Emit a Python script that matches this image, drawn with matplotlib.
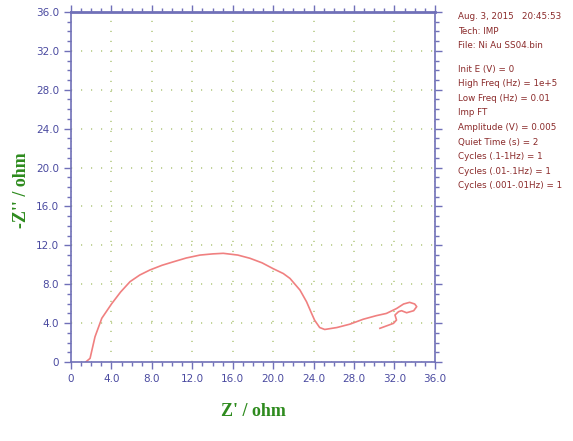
import numpy as np
import matplotlib.pyplot as plt
from matplotlib.ticker import MultipleLocator, FuncFormatter

# impedance data
z_real = [1.48, 1.88, 2.37, 3.04, 4.02, 4.9, 5.84, 6.8, 7.81, 9.0, 10.1, 11.4, 12.76,
          14.0, 15.06, 16.5, 17.7, 18.9, 20.0, 21.0, 21.66, 22.65, 23.3, 23.8, 24.1,
          24.6, 25.1, 26.3, 27.6, 28.9, 30.2, 31.2, 32.2, 32.9, 33.5, 34.0, 34.2,
          33.9, 33.2, 32.7, 32.4, 32.05, 32.2, 31.9, 30.56]
z_imag = [0.03, 0.38, 2.6, 4.5, 6.0, 7.2, 8.27, 8.95, 9.47, 9.95, 10.3, 10.7, 11.0,
          11.12, 11.18, 11.0, 10.67, 10.2, 9.6, 9.1, 8.6, 7.4, 6.2, 5.0, 4.3,
          3.55, 3.35, 3.55, 3.9, 4.4, 4.77, 5.0, 5.5, 5.97, 6.14, 5.97, 5.7,
          5.28, 5.07, 5.28, 5.18, 4.84, 4.32, 3.98, 3.47]

info_lines = ["Aug. 3, 2015   20:45:53", "Tech: IMP", "File: Ni Au SS04.bin", "",
              "Init E (V) = 0", "High Freq (Hz) = 1e+5", "Low Freq (Hz) = 0.01", "Imp FT",
              "Amplitude (V) = 0.005", "Quiet Time (s) = 2", "Cycles (.1-1Hz) = 1",
              "Cycles (.01-.1Hz) = 1", "Cycles (.001-.01Hz) = 1"]

axis_col = '#7070b8'
tick_col = '#4a4aa0'
label_col = '#2e8b1e'

fig = plt.figure(figsize=(5.73, 4.41), dpi=100)
ax = fig.add_axes([0.124, 0.179, 0.635, 0.794])
ax.plot(z_real, z_imag, color='#f08080', lw=1.2)
ax.set_xlim(0, 36)
ax.set_ylim(0, 36)

fmt = FuncFormatter(lambda v, p: '0' if v == 0 else f'{v:.1f}')
for a in (ax.xaxis, ax.yaxis):
    a.set_major_locator(MultipleLocator(4))
    a.set_minor_locator(MultipleLocator(1))
    a.set_major_formatter(fmt)
ax.tick_params(which='both', direction='out', color=axis_col, labelcolor=tick_col,
               labelsize=7.5, top=True, right=True)
ax.tick_params(which='major', length=5, width=1)
ax.tick_params(which='minor', length=3, width=1)
ax.tick_params(labeltop=False, labelright=False)
for s in ax.spines.values():
    s.set_color(axis_col)
    s.set_linewidth(1.2)
ax.spines['top'].set_linewidth(2)
ax.grid(True, which='major', color='#b8cc88', lw=1.2, dashes=(0.7, 5.3))
ax.set_axisbelow(True)

ax.set_xlabel("Z' / ohm", color=label_col, fontsize=13, fontweight='bold',
              family='Liberation Serif', labelpad=14)
fig.text(0.038, 0.57, "-Z'' / ohm", color=label_col, fontsize=13, fontweight='bold',
         family='Liberation Serif', rotation=90, ha='center', va='center')

y = 0.962
for line in info_lines:
    if line:
        fig.text(0.799, y, line, color='#8a2a2a', fontsize=6.3, va='center')
        y -= 0.033
    else:
        y -= 0.02

fig.savefig('out.png', dpi=100)
